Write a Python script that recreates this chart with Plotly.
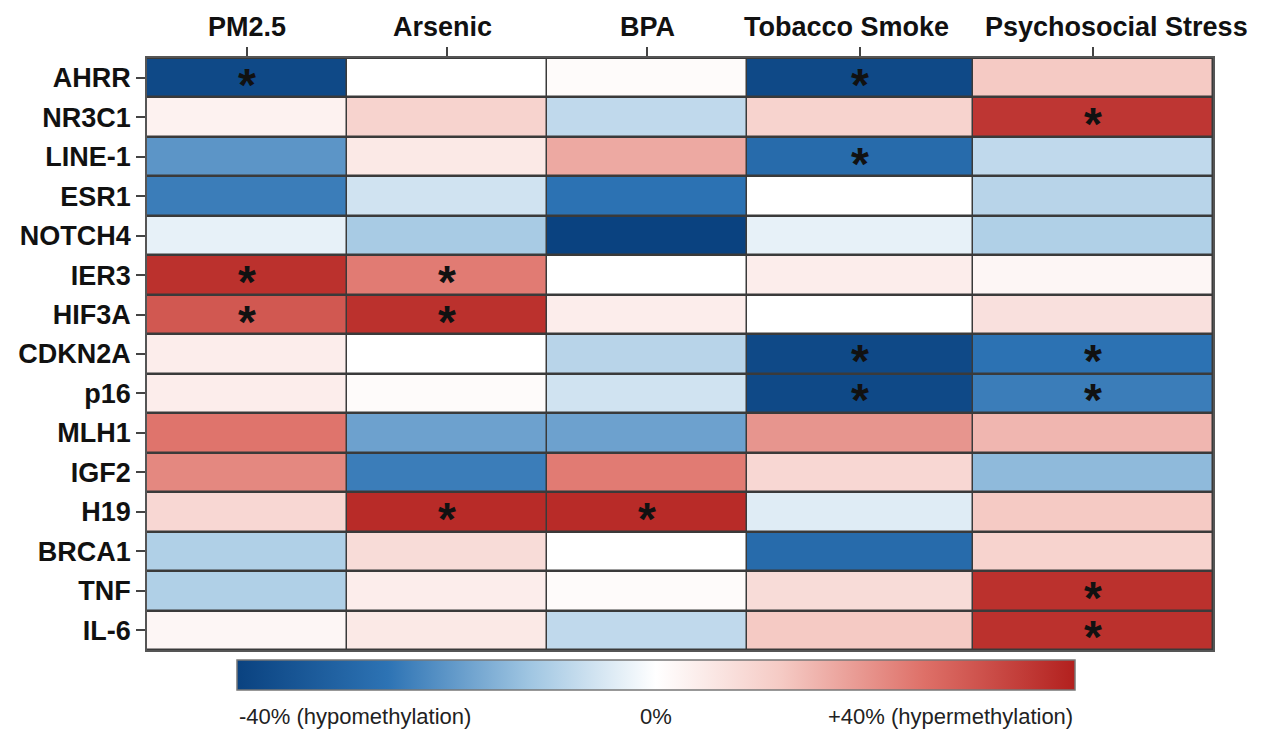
import plotly.graph_objects as go

exposures = ["PM2.5", "Arsenic", "BPA", "Tobacco Smoke", "Psychosocial Stress"]
genes = ["AHRR", "NR3C1", "LINE-1", "ESR1", "NOTCH4", "IER3", "HIF3A", "CDKN2A",
         "p16", "MLH1", "IGF2", "H19", "BRCA1", "TNF", "IL-6"]

# methylation change (%), rows = genes, cols = exposures
pm25 =     [-38,  3, -20, -24,  -3, 37, 30,   4,   4, 25,  22,  9, -10, -10,  2]
arsenic =  [  0, 10,   5,  -6, -11, 24, 37,   0,   1, -18, -24, 38,  8,   4,  5]
bpa =      [  1, -8,  17, -26, -40,  0,  4,  -9,  -6, -18,  24, 38,  0,   1, -8]
tobacco =  [-38, 10, -28,   0,  -3,  4,  0, -38, -38, 20,   9, -4, -28,   8, 12]
stress =   [ 12, 36,  -8,  -9, -10,  2,  7, -26, -24, 15, -14, 12, 10,  37, 37]

# significance flags
sig_pm25 =    [1,0,0,0,0,1,1,0,0,0,0,0,0,0,0]
sig_arsenic = [0,0,0,0,0,1,1,0,0,0,0,1,0,0,0]
sig_bpa =     [0,0,0,0,0,0,0,0,0,0,0,1,0,0,0]
sig_tobacco = [1,0,1,0,0,0,0,1,1,0,0,0,0,0,0]
sig_stress =  [0,1,0,0,0,0,0,1,1,0,0,0,0,1,1]

cbar_labels = ["-40% (hypomethylation)", "0%", "+40% (hypermethylation)"]

# column edges (unequal widths as in the figure)
col_edges = [0, 1, 2, 3, 4.13, 5.33]
centers = [(col_edges[i] + col_edges[i + 1]) / 2 for i in range(len(exposures))]
# horizontal nudges (px) of the column headers relative to their tick
header_shift = [0, -5, 0, -14, 23]

cols = [pm25, arsenic, bpa, tobacco, stress]
sigs = [sig_pm25, sig_arsenic, sig_bpa, sig_tobacco, sig_stress]
z = [[cols[j][i] for j in range(len(exposures))] for i in range(len(genes))]

colorscale = [
    [0.0, "rgb(10,66,128)"],
    [0.18, "rgb(45,115,180)"],
    [0.35, "rgb(160,198,226)"],
    [0.5, "rgb(255,255,255)"],
    [0.65, "rgb(245,202,196)"],
    [0.82, "rgb(222,112,104)"],
    [1.0, "rgb(178,32,30)"],
]

fig = go.Figure()
fig.add_trace(go.Heatmap(
    z=z, x=col_edges, y=list(range(len(genes))),
    zmin=-40, zmax=40, colorscale=colorscale,
    xgap=1.5, ygap=2.5,
    colorbar=dict(
        orientation="h", x=0.4775, xanchor="center", y=-0.017, yanchor="top",
        len=0.786, lenmode="fraction", thickness=30, xpad=0, ypad=0,
        outlinewidth=1.5, outlinecolor="#777", showticklabels=False, ticks="",
    ),
    hoverongaps=False,
))

ann = []
for j in range(len(exposures)):
    for i in range(len(genes)):
        if sigs[j][i]:
            ann.append(dict(x=centers[j], y=i, xref="x", yref="y",
                            text="<b>*</b>", showarrow=False, yshift=-7,
                            font=dict(size=46, color="#111", family="Liberation Sans")))

for j, e in enumerate(exposures):
    ann.append(dict(x=centers[j], y=1, xref="x", yref="paper", text="<b>%s</b>" % e,
                    showarrow=False, xanchor="center", yanchor="middle",
                    yshift=31, xshift=header_shift[j],
                    font=dict(size=27, color="#111", family="Liberation Sans")))

cb_x = [0.0844, 0.4775, 0.8705]
cb_anchor = ["left", "center", "right"]
for k, t in enumerate(cbar_labels):
    ann.append(dict(x=cb_x[k], y=-0.113, xref="paper", yref="paper", text=t,
                    showarrow=False, xanchor=cb_anchor[k], yanchor="middle",
                    font=dict(size=22, color="#222", family="Liberation Sans")))

fig.update_layout(
    width=1268, height=732,
    margin=dict(l=147, r=55, t=58, b=82),
    paper_bgcolor="white", plot_bgcolor="#3a3a3a",
    annotations=ann,
    font=dict(family="Liberation Sans", color="#111"),
)
fig.update_xaxes(
    side="top", range=[col_edges[0], col_edges[-1]], automargin=False,
    tickvals=centers, showticklabels=False,
    ticks="outside", ticklen=9,
    tickwidth=1.5, tickcolor="#444", showgrid=False, zeroline=False,
    showline=True, linecolor="#555", linewidth=1.5, mirror=True,
)
fig.update_yaxes(
    range=[len(genes) - 0.5, -0.5], automargin=False,
    tickvals=list(range(len(genes))), ticktext=["<b>%s</b>" % g for g in genes],
    tickfont=dict(size=27, color="#111"), ticks="outside", ticklen=9,
    tickwidth=1.5, tickcolor="#444", showgrid=False, zeroline=False,
    showline=True, linecolor="#555", linewidth=1.5, mirror=True,
)

fig.write_html("out.html", config={"displayModeBar": False},
               post_script="document.body.style.margin='0';")
